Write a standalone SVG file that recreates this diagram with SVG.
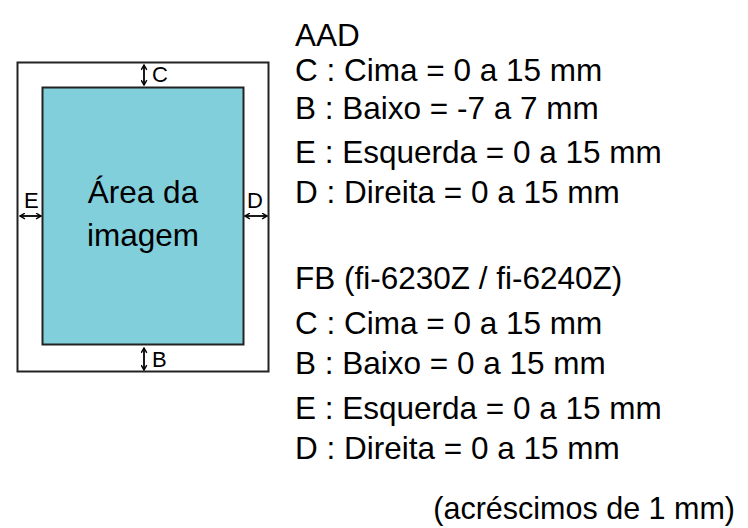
<svg xmlns="http://www.w3.org/2000/svg" width="748" height="528" viewBox="0 0 748 528">
<defs>
<style>
.t{font-family:"Liberation Sans",Arial,sans-serif;font-size:31.5px;fill:#000}
.f{font-family:"Liberation Sans",Arial,sans-serif;font-size:30.5px;fill:#000}
.s{font-family:"Liberation Sans",Arial,sans-serif;font-size:22px;fill:#000}
.a{stroke:#000;stroke-width:1.8;fill:none}
</style>
<marker id="h" viewBox="0 0 10 10" refX="9" refY="5" markerWidth="7" markerHeight="7" orient="auto-start-reverse" markerUnits="userSpaceOnUse">
<path d="M2,1 L9,5 L2,9" fill="none" stroke="#000" stroke-width="2"/>
</marker>
</defs>
<rect width="748" height="528" fill="#fff"/>
<g id="page">
<rect x="17.5" y="62.5" width="251" height="309" fill="#fff" stroke="#222" stroke-width="2"/>
</g>
<g id="image-area">
<rect x="42.5" y="87.5" width="201" height="257" fill="#80CFDB" stroke="#222" stroke-width="2"/>
<text class="t" x="143" y="203" text-anchor="middle">Área da</text>
<text class="t" x="143" y="246" text-anchor="middle">imagem</text>
</g>
<g id="connectors">
<line class="a" x1="144" y1="65" x2="144" y2="85" marker-start="url(#h)" marker-end="url(#h)"/>
<line class="a" x1="144" y1="348" x2="144" y2="370" marker-start="url(#h)" marker-end="url(#h)"/>
<line class="a" x1="20" y1="216" x2="41" y2="216" marker-start="url(#h)" marker-end="url(#h)"/>
<line class="a" x1="245" y1="216" x2="267" y2="216" marker-start="url(#h)" marker-end="url(#h)"/>
</g>
<g id="labels">
<text class="s" x="152" y="82">C</text>
<text class="s" x="152" y="367">B</text>
<text class="s" x="24" y="208">E</text>
<text class="s" x="247" y="208">D</text>
</g>
<g id="legend">
<text class="t" x="295" y="46">AAD</text>
<text class="t" x="295" y="81">C : Cima = 0 a 15 mm</text>
<text class="t" x="295" y="119">B : Baixo = -7 a 7 mm</text>
<text class="t" x="295" y="163">E : Esquerda = 0 a 15 mm</text>
<text class="t" x="295" y="203">D : Direita = 0 a 15 mm</text>
<text class="t" x="295" y="289">FB (fi-6230Z / fi-6240Z)</text>
<text class="t" x="295" y="334">C : Cima = 0 a 15 mm</text>
<text class="t" x="295" y="374">B : Baixo = 0 a 15 mm</text>
<text class="t" x="295" y="419">E : Esquerda = 0 a 15 mm</text>
<text class="t" x="295" y="459">D : Direita = 0 a 15 mm</text>
<text class="f" x="735" y="519" text-anchor="end">(acréscimos de 1 mm)</text>
</g>
</svg>
